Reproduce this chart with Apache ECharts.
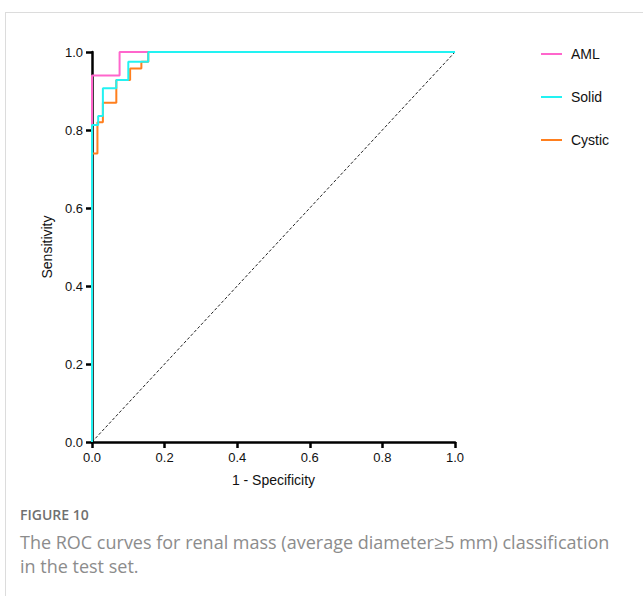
<!DOCTYPE html>
<html>
<head>
<meta charset="utf-8">
<script src="https://cdn.jsdelivr.net/npm/echarts@6/dist/echarts.min.js"></script>
<style>
  html, body { margin: 0; padding: 0; background: #fff; }
  #frame { position: absolute; left: 5px; top: 12px; width: 638px; height: 584px;
           border-top: 1px solid #dcdcdc; border-left: 1px solid #dcdcdc; }
  #roc { position: absolute; left: 0; top: 0; width: 643px; height: 596px; }
  .cap { position: absolute; left: 20px; font-family: "Open Sans", Lato, sans-serif; }
  #figno { top: 505px; font-size: 14px; color: #707070; font-weight: 600; }
  #figtxt { top: 530px; font-size: 18px; line-height: 24px; color: #8c8c8c; width: 600px; }
</style>
</head>
<body>
<div id="frame"></div>
<div id="roc"></div>
<div class="cap" id="figno">FIGURE 10</div>
<div class="cap" id="figtxt">The ROC curves for renal mass (average diameter≥5 mm) classification in the test set.</div>
<script>
// ROC 阶梯曲线的点 [1 - 特异度, 灵敏度]
const aml = [[0, 0], [0, 0.94], [0.076, 0.94], [0.076, 1], [1, 1]];
const solid = [
  [0, 0], [0, 0.813], [0.017, 0.813], [0.017, 0.836], [0.03, 0.836],
  [0.03, 0.907], [0.067, 0.907], [0.067, 0.928], [0.1, 0.928],
  [0.1, 0.975], [0.155, 0.975], [0.155, 1], [1, 1]
];
const cystic = [
  [0, 0], [0, 0.74], [0.015, 0.74], [0.015, 0.82], [0.03, 0.82],
  [0.03, 0.87], [0.067, 0.87], [0.067, 0.928], [0.105, 0.928],
  [0.105, 0.958], [0.136, 0.958], [0.136, 0.975], [0.155, 0.975],
  [0.155, 1], [1, 1]
];
const reference = [[0, 0], [1, 1]];
const seriesNames = ['AML', 'Solid', 'Cystic'];
const seriesColors = ['#ff66cc', '#22f2f2', '#ff7f1e'];

const chart = echarts.init(document.getElementById('roc'), null, { renderer: 'svg' });

const axisFont = { color: '#111', fontFamily: 'Liberation Sans, Arial, sans-serif', fontSize: 13 };

const option = {
  animation: false,
  grid: { left: 92, right: 188, top: 52, bottom: 154 },
  legend: seriesNames.map((name, i) => ({
    data: [name],
    left: 536,
    top: 42 + i * 43,
    icon: 'rect',
    itemWidth: 21,
    itemHeight: 2,
    itemGap: 10,
    textStyle: { fontFamily: 'Liberation Sans, Arial, sans-serif', fontSize: 14, color: '#111', padding: [0, 0, 0, 4] }
  })),
  xAxis: {
    type: 'value', min: 0, max: 1, interval: 0.2,
    name: '1 - Specificity', nameLocation: 'middle', nameGap: 31,
    nameTextStyle: Object.assign({}, axisFont, { fontSize: 14 }),
    axisLine: { lineStyle: { color: '#000', width: 2.5 } },
    axisTick: { show: true, length: 6, lineStyle: { color: '#000', width: 2.5 } },
    axisLabel: Object.assign({ margin: 9, formatter: v => v.toFixed(1) }, axisFont),
    splitLine: { show: false }
  },
  yAxis: {
    type: 'value', min: 0, max: 1, interval: 0.2,
    name: 'Sensitivity', nameLocation: 'middle', nameGap: 30,
    nameTextStyle: Object.assign({}, axisFont, { fontSize: 14 }),
    axisLine: { show: true, lineStyle: { color: '#000', width: 2.5 } },
    axisTick: { show: true, length: 6, lineStyle: { color: '#000', width: 2.5 } },
    axisLabel: Object.assign({ margin: 9, formatter: v => v.toFixed(1) }, axisFont),
    splitLine: { show: false }
  },
  series: [
    {
      name: 'ref', type: 'line', data: reference, symbol: 'none', silent: true,
      lineStyle: { color: '#222', width: 1, type: [3, 2] }, z: 1
    },
    {
      name: 'AML', type: 'line', data: aml, symbol: 'none', clip: false,
      itemStyle: { color: seriesColors[0] }, lineStyle: { color: seriesColors[0], width: 2 }, z: 2
    },
    {
      name: 'Cystic', type: 'line', data: cystic, symbol: 'none', clip: false,
      itemStyle: { color: seriesColors[2] }, lineStyle: { color: seriesColors[2], width: 2 }, z: 3
    },
    {
      name: 'Solid', type: 'line', data: solid, symbol: 'none', clip: false,
      itemStyle: { color: seriesColors[1] }, lineStyle: { color: seriesColors[1], width: 2 }, z: 4
    }
  ]
};

chart.setOption(option);
</script>
</body>
</html>
